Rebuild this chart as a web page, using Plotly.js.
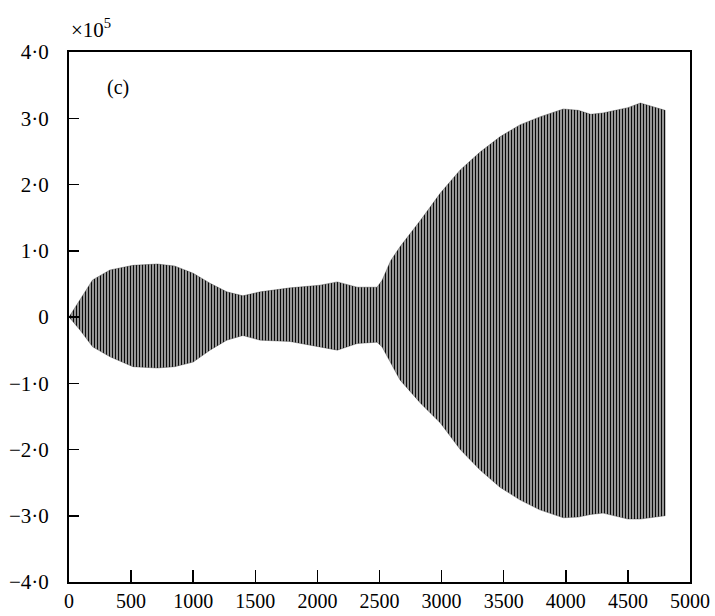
<!DOCTYPE html>
<html>
<head>
<meta charset="utf-8">
<script src="https://cdn.plot.ly/plotly-3.0.1.min.js"></script>
<style>
  html, body { margin: 0; padding: 0; background: #fff; }
  #chart { width: 715px; height: 616px; }
</style>
</head>
<body>
<div id="chart"></div>
<script>
// Response envelope of the dense oscillation (amplitude in units of 1e5)
const timeSteps = [0, 90, 190, 330, 515, 710, 850, 1000, 1135, 1270, 1400, 1540, 1780, 2020, 2160, 2320, 2480, 2520, 2590, 2665, 2830, 2990, 3150, 3310, 3470, 3630, 3790, 3980, 4100, 4200, 4300, 4400, 4500, 4600, 4700, 4800];
const upperEnvelope = [0, 0.26, 0.56, 0.71, 0.78, 0.80, 0.77, 0.66, 0.51, 0.38, 0.32, 0.38, 0.44, 0.48, 0.53, 0.45, 0.45, 0.55, 0.85, 1.06, 1.46, 1.87, 2.22, 2.49, 2.72, 2.90, 3.02, 3.14, 3.12, 3.06, 3.08, 3.12, 3.16, 3.23, 3.18, 3.12];
const lowerEnvelope = [0, -0.20, -0.45, -0.60, -0.75, -0.77, -0.75, -0.68, -0.50, -0.35, -0.28, -0.35, -0.37, -0.45, -0.50, -0.40, -0.38, -0.45, -0.70, -0.95, -1.30, -1.60, -2.00, -2.31, -2.57, -2.76, -2.91, -3.03, -3.02, -2.98, -2.96, -3.00, -3.05, -3.05, -3.02, -3.00];

// Axis ticks
const xTicks = [0, 500, 1000, 1500, 2000, 2500, 3000, 3500, 4000, 4500, 5000];
const yTicks = [-4, -3, -2, -1, 0, 1, 2, 3, 4];
const yTickText = ['\u22124\u00b70', '\u22123\u00b70', '\u22122\u00b70', '\u22121\u00b70', '0', '1\u00b70', '2\u00b70', '3\u00b70', '4\u00b70'];

// Closed outline: along the upper envelope, back along the lower one
const bandX = timeSteps.concat(timeSteps.slice().reverse());
const bandY = upperEnvelope.concat(lowerEnvelope.slice().reverse());

const serif = 'Liberation Serif, Times New Roman, serif';

const traces = [{
  type: 'scatter',
  mode: 'lines',
  x: bandX,
  y: bandY,
  fill: 'toself',
  fillcolor: 'rgba(255,255,255,0)',
  fillpattern: { shape: '|', size: 3, solidity: 0.62, fgcolor: '#0a0a0a', bgcolor: '#ffffff' },
  line: { color: 'rgba(30,30,30,0.55)', width: 0.6 },
  hoverinfo: 'skip',
  showlegend: false
}];

const axisCommon = {
  showline: true,
  linecolor: '#000',
  linewidth: 2,
  mirror: true,
  ticks: 'inside',
  tickcolor: '#000',
  tickwidth: 1.5,
  showgrid: false,
  zeroline: false,
  tickfont: { family: serif, size: 21, color: '#000' }
};

const layout = {
  width: 715,
  height: 616,
  margin: { l: 69, r: 25, t: 52, b: 34 },
  paper_bgcolor: '#fff',
  plot_bgcolor: '#fff',
  xaxis: Object.assign({}, axisCommon, {
    range: [0, 5000],
    tickvals: xTicks,
    ticktext: xTicks.map(String),
    ticklen: 12,
    ticklabelstandoff: 0,
    tickfont: { family: serif, size: 20, color: '#000' }
  }),
  yaxis: Object.assign({}, axisCommon, {
    range: [-4, 4],
    tickvals: yTicks,
    ticktext: yTickText,
    ticklen: 10,
    ticklabelstandoff: 14
  }),
  annotations: [
    {
      xref: 'paper', yref: 'paper',
      x: 0.0, y: 1.045, xanchor: 'left', yanchor: 'middle',
      text: '\u00d710<sup>5</sup>',
      showarrow: false,
      font: { family: serif, size: 21, color: '#000' }
    },
    {
      xref: 'x', yref: 'y',
      x: 290, y: 3.47, xanchor: 'left', yanchor: 'middle',
      text: '(c)',
      showarrow: false,
      font: { family: serif, size: 20, color: '#000' }
    }
  ]
};

Plotly.newPlot('chart', traces, layout, { staticPlot: true, displayModeBar: false });
</script>
</body>
</html>
